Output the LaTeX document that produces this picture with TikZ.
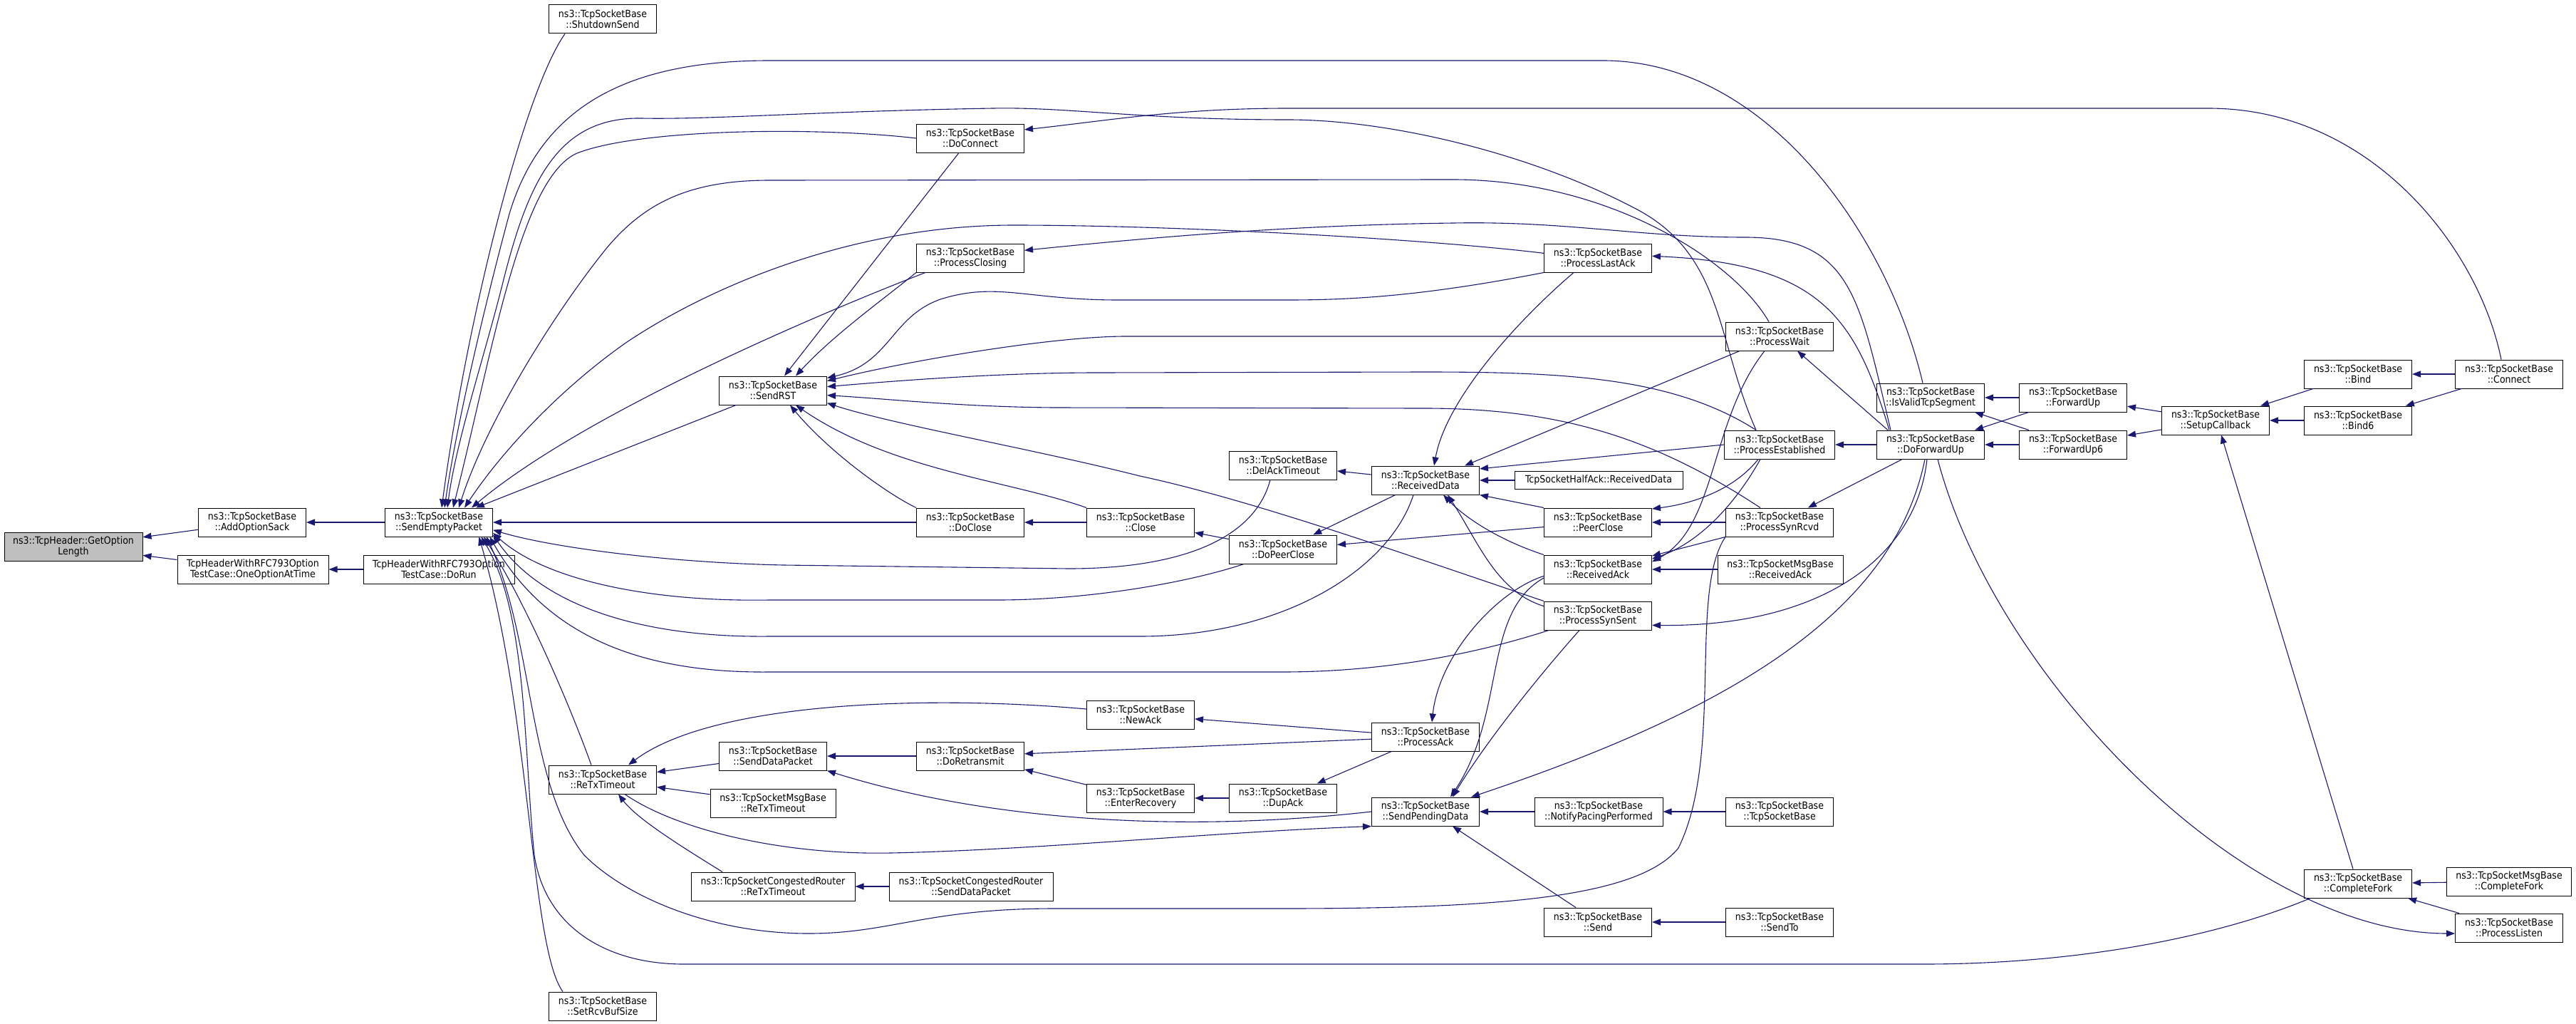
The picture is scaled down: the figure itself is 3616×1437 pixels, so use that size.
\documentclass[tikz,border=0pt]{standalone}
\usepackage{fontspec}
\setmainfont{DejaVu Sans Condensed}
\usetikzlibrary{arrows.meta}
\definecolor{edgeblue}{HTML}{191970}
\definecolor{rootgray}{HTML}{BFBFBF}
\newcommand{\tsb}{ns3::TcpSocketBase\\}
\tikzset{
	fn/.style={draw=black, line width=1pt, fill=white, minimum width=151pt, minimum height=40pt, inner sep=0pt, align=center, font=\fontsize{14}{14.5}\selectfont},
	call/.style={draw=edgeblue, line width=1.1pt, -{Triangle[length=12pt,width=9pt]}}
}
\begin{document}
\begin{tikzpicture}[x=1pt, y=-1pt]
	   \useasboundingbox (0,0) rectangle (3616,1437);
	   % draw root and first callers
	   \node[fn, fill=rootgray, minimum width=194pt] (getopt) at (103,767) {ns3::TcpHeader::GetOption\\Length};
	   \node[fn] (addsack) at (354,733) {\tsb::AddOptionSack};
	   \node[fn] (sendempty) at (616,733) {\tsb::SendEmptyPacket};
	   \node[fn, minimum width=212pt] (oneopt) at (355,799) {TcpHeaderWithRFC793Option\\TestCase::OneOptionAtTime};
	   \node[fn, minimum width=212pt] (dorun) at (616,799) {TcpHeaderWithRFC793Option\\TestCase::DoRun};
	   % draw middle columns
	   \node[fn] (shutdown) at (846,27) {\tsb::ShutdownSend};
	   \node[fn] (sendrst) at (1085,548) {\tsb::SendRST};
	   \node[fn] (retx) at (846,1094) {\tsb::ReTxTimeout};
	   \node[fn] (setrcvbuf) at (846,1412) {\tsb::SetRcvBufSize};
	   \node[fn] (doconnect) at (1362,194) {\tsb::DoConnect};
	   \node[fn] (procclosing) at (1362,362) {\tsb::ProcessClosing};
	   \node[fn] (doclose) at (1362,733) {\tsb::DoClose};
	   \node[fn] (close) at (1601,733) {\tsb::Close};
	   \node[fn] (delack) at (1801,653) {\tsb::DelAckTimeout};
	   \node[fn] (dopeerclose) at (1801,771) {\tsb::DoPeerClose};
	   \node[fn] (newack) at (1601,1003) {\tsb::NewAck};
	   \node[fn] (senddata) at (1085,1061) {\tsb::SendDataPacket};
	   \node[fn] (doretx) at (1362,1061) {\tsb::DoRetransmit};
	   \node[fn, minimum width=176pt] (msgretx) at (1085,1127) {ns3::TcpSocketMsgBase\\::ReTxTimeout};
	   \node[fn] (enterrec) at (1601,1120) {\tsb::EnterRecovery};
	   \node[fn] (dupack) at (1801,1120) {\tsb::DupAck};
	   \node[fn, minimum width=230pt] (crretx) at (1085,1244) {ns3::TcpSocketCongestedRouter\\::ReTxTimeout};
	   \node[fn, minimum width=230pt] (crsenddata) at (1363,1244) {ns3::TcpSocketCongestedRouter\\::SendDataPacket};
	   % draw receive side
	   \node[fn] (recvdata) at (2001,674) {\tsb::ReceivedData};
	   \node[fn] (procack) at (2001,1034) {\tsb::ProcessAck};
	   \node[fn] (sendpending) at (2001,1139) {\tsb::SendPendingData};
	   \node[fn] (proclastack) at (2243,362) {\tsb::ProcessLastAck};
	   \node[fn, minimum width=236pt, minimum height=25pt] (halfack) at (2244,674) {TcpSocketHalfAck::ReceivedData};
	   \node[fn] (peerclose) at (2243,733) {\tsb::PeerClose};
	   \node[fn] (recvack) at (2243,799) {\tsb::ReceivedAck};
	   \node[fn] (procsynsent) at (2243,864) {\tsb::ProcessSynSent};
	   \node[fn, minimum width=180pt] (notifypacing) at (2244,1139) {\tsb::NotifyPacingPerformed};
	   \node[fn] (send) at (2243,1294) {\tsb::Send};
	   \node[fn] (procwait) at (2498,472) {\tsb::ProcessWait};
	   \node[fn, minimum width=155pt] (procest) at (2498,624) {\tsb::ProcessEstablished};
	   \node[fn] (procsynrcvd) at (2498,733) {\tsb::ProcessSynRcvd};
	   \node[fn, minimum width=176pt] (msgrecvack) at (2499,799) {ns3::TcpSocketMsgBase\\::ReceivedAck};
	   \node[fn] (ctor) at (2498,1139) {\tsb::TcpSocketBase};
	   \node[fn] (sendto) at (2498,1294) {\tsb::SendTo};
	   % draw right columns
	   \node[fn] (isvalid) at (2710,558) {\tsb::IsValidTcpSegment};
	   \node[fn] (doforwardup) at (2710,624) {\tsb::DoForwardUp};
	   \node[fn] (forwardup) at (2910,558) {\tsb::ForwardUp};
	   \node[fn] (forwardup6) at (2910,624) {\tsb::ForwardUp6};
	   \node[fn] (setupcb) at (3110,590) {\tsb::SetupCallback};
	   \node[fn] (bind) at (3310,525) {\tsb::Bind};
	   \node[fn] (bind6) at (3310,590) {\tsb::Bind6};
	   \node[fn] (connect) at (3522,525) {\tsb::Connect};
	   \node[fn] (completefork) at (3310,1240) {\tsb::CompleteFork};
	   \node[fn, minimum width=175pt] (msgcompletefork) at (3522,1237) {ns3::TcpSocketMsgBase\\::CompleteFork};
	   \node[fn] (proclisten) at (3522,1302) {\tsb::ProcessListen};
	   % calls into GetOptionLength
	   \draw[call] (addsack) -- (getopt);
	   \draw[call] (oneopt) -- (getopt);
	   \draw[call] (sendempty) -- (addsack);
	   \draw[call] (dorun) -- (oneopt);
	   % callers of SendEmptyPacket, top side
	   \draw[call] ([xshift=-53pt]shutdown.south) .. controls (735,130) and (655,450) .. ([xshift=4pt]sendempty.north);
	   \draw[call] ([xshift=-11pt]isvalid.north) .. controls (2650,330) and (2480,85) .. (2250,85) -- (1080,85) .. controls (880,85) and (760,150) .. (715,300) .. controls (680,430) and (640,600) .. ([xshift=8pt]sendempty.north);
	   \draw[call] ([xshift=-33pt]procest.north) .. controls (2410,480) and (2420,360) .. (2300,295) .. controls (2150,215) and (1950,168) .. (1808,168) .. controls (1600,168) and (1500,150) .. (1394,152) .. controls (1150,156) and (1000,168) .. (900,166) .. controls (780,164) and (740,260) .. (705,400) .. controls (680,500) and (640,620) .. ([xshift=12pt]sendempty.north);
	   \draw[call] (doconnect.west) .. controls (1150,178) and (900,180) .. (810,215) .. controls (730,250) and (690,500) .. ([xshift=20pt]sendempty.north);
	   \draw[call] ([xshift=-15pt]procwait.north) .. controls (2430,360) and (2250,252) .. (2040,252) -- (1080,253) .. controls (960,253) and (900,290) .. (850,350) .. controls (770,450) and (680,600) .. ([xshift=28pt]sendempty.north);
	   \draw[call] (proclastack.175) .. controls (2000,335) and (1650,316) .. (1423,316) .. controls (1200,316) and (1000,400) .. (880,480) .. controls (780,550) and (700,640) .. ([xshift=36pt]sendempty.north);
	   \draw[call] ([xshift=-63pt]procclosing.south) .. controls (1150,440) and (820,580) .. ([xshift=46pt]sendempty.north);
	   \draw[call] (sendrst) -- (sendempty);
	   \draw[call] (doclose) -- (sendempty);
	   % callers of SendEmptyPacket, bottom side
	   \draw[call] ([xshift=-18pt]delack.south) .. controls (1760,760) and (1650,798) .. (1500,798) -- (1100,793) .. controls (950,790) and (780,770) .. (sendempty.-8);
	   \draw[call] ([xshift=-55pt]dopeerclose.south) .. controls (1660,820) and (1520,842) .. (1400,842) -- (1080,842) .. controls (900,845) and (760,810) .. (sendempty.-11);
	   \draw[call] ([xshift=-17pt]recvdata.south) .. controls (1950,800) and (1800,893) .. (1600,893) -- (1080,893) .. controls (900,895) and (760,850) .. (sendempty.-13);
	   \draw[call] ([xshift=-69pt]procsynsent.south) .. controls (2080,915) and (1950,943) .. (1800,943) -- (1080,943) .. controls (880,945) and (760,880) .. (sendempty.-16);
	   \draw[call] ([xshift=-16pt]retx.north) .. controls (800,990) and (740,850) .. (sendempty.-18);
	   \draw[call] (procsynrcvd.south west) .. controls (2370,830) and (2420,1060) .. (2356,1190) .. controls (2300,1260) and (2100,1275) .. (1800,1275) -- (1480,1275) .. controls (1300,1275) and (1250,1310) .. (1135,1310) .. controls (1000,1310) and (880,1260) .. (820,1200) .. controls (740,1100) and (750,900) .. (sendempty.-17);
	   \draw[call] ([xshift=-67pt]completefork.south) .. controls (3100,1320) and (2900,1353) .. (2700,1353) -- (960,1353) .. controls (850,1353) and (765,1300) .. (750,1200) .. controls (735,1050) and (740,860) .. (sendempty.-19);
	   \draw[call] ([xshift=-56pt]setrcvbuf.north) .. controls (745,1330) and (745,1000) .. (sendempty.-20);
	   % callers of SendRST
	   \draw[call] (doconnect) -- (sendrst);
	   \draw[call] (procclosing.south west) .. controls (1240,420) and (1170,470) .. ([xshift=32pt]sendrst.north);
	   \draw[call] (proclastack.south west) .. controls (2000,415) and (1900,421) .. (1808,421) -- (1570,421) .. controls (1440,421) and (1400,395) .. (1320,420) .. controls (1250,445) and (1250,510) .. (sendrst.13);
	   \draw[call] (procwait.west) -- (1580,472) .. controls (1480,472) and (1280,505) .. (sendrst.10);
	   \draw[call] ([xshift=-33pt]procest.north) .. controls (2350,530) and (2200,522) .. (2000,522) -- (1540,523) .. controls (1400,523) and (1250,535) .. (sendrst.4);
	   \draw[call] ([xshift=-27pt]procsynrcvd.north) .. controls (2330,620) and (2200,573) .. (2000,573) -- (1480,572) .. controls (1350,571) and (1250,560) .. (sendrst.-5);
	   \draw[call] (procsynsent.north west) .. controls (1950,770) and (1750,700) .. (1600,668) .. controls (1450,630) and (1250,595) .. (sendrst.-13);
	   \draw[call] (doclose.north west) .. controls (1240,690) and (1160,630) .. ([xshift=24pt]sendrst.south);
	   \draw[call] (close.north west) .. controls (1420,675) and (1250,660) .. ([xshift=32pt]sendrst.south);
	   % close and data path
	   \draw[call] (recvdata) -- (delack);
	   \draw[call] (recvdata) -- (dopeerclose);
	   \draw[call] (peerclose) -- (dopeerclose);
	   \draw[call] (dopeerclose) -- (close);
	   \draw[call] (close) -- (doclose);
	   \draw[call] (procest.west) -- (recvdata.12);
	   \draw[call] (halfack) -- (recvdata);
	   \draw[call] (peerclose.north west) -- (recvdata.south east);
	   \draw[call] ([xshift=-34pt]proclastack.south) .. controls (2130,450) and (2030,560) .. ([xshift=12pt]recvdata.north);
	   \draw[call] ([xshift=-56pt]procwait.south) -- ([xshift=55pt]recvdata.north);
	   \draw[call] (recvack.north west) .. controls (2110,760) and (2060,730) .. ([xshift=25pt]recvdata.south);
	   \draw[call] (procsynsent.170) .. controls (2100,830) and (2075,760) .. ([xshift=31pt]recvdata.south);
	   % DoForwardUp dispatch
	   \draw[call] ([xshift=-60pt]doforwardup.north) -- ([xshift=25pt]procwait.south);
	   \draw[call] (doforwardup) -- (procest);
	   \draw[call] (doforwardup) -- (procsynrcvd);
	   \draw[call] ([xshift=-5pt]doforwardup.south) .. controls (2690,780) and (2560,880) .. (procsynsent.-10);
	   \draw[call] ([xshift=-8pt]doforwardup.south) .. controls (2660,850) and (2450,990) .. ([xshift=64pt]sendpending.north);
	   \draw[call] ([xshift=10pt]doforwardup.south) .. controls (2800,950) and (3150,1310) .. (proclisten.186);
	   \draw[call] ([xshift=-58pt]doforwardup.north) .. controls (2605,450) and (2560,370) .. (proclastack.2);
	   \draw[call] ([xshift=-56pt]doforwardup.north) .. controls (2610,420) and (2600,333) .. (2450,333) .. controls (2300,333) and (2200,310) .. (2040,313) .. controls (1800,316) and (1600,335) .. (procclosing.8);
	   % upper right chain
	   \draw[call] (forwardup) -- (isvalid);
	   \draw[call] (forwardup6) -- (isvalid);
	   \draw[call] (forwardup) -- (doforwardup);
	   \draw[call] (forwardup6) -- (doforwardup);
	   \draw[call] (setupcb) -- (forwardup);
	   \draw[call] (setupcb) -- (forwardup6);
	   \draw[call] (bind) -- (setupcb);
	   \draw[call] (bind6) -- (setupcb);
	   \draw[call] (connect) -- (bind);
	   \draw[call] (connect) -- (bind6);
	   \draw[call] ([xshift=-7pt]completefork.north) -- ([xshift=8pt]setupcb.south);
	   \draw[call] (msgcompletefork) -- (completefork);
	   \draw[call] (proclisten) -- (completefork);
	   \draw[call] ([xshift=-11pt]connect.north) .. controls (3480,350) and (3330,152) .. (3100,152) -- (1808,152) .. controls (1650,152) and (1550,170) .. (doconnect.9);
	   % PeerClose and ReceivedAck
	   \draw[call] (procsynrcvd) -- (peerclose);
	   \draw[call] ([xshift=-30pt]procest.south) .. controls (2440,680) and (2390,705) .. (peerclose.14);
	   \draw[call] (procsynrcvd.south west) -- (recvack.14);
	   \draw[call] ([xshift=-27pt]procest.south) .. controls (2440,700) and (2390,760) .. (recvack.11);
	   \draw[call] ([xshift=-21pt]procwait.south) .. controls (2400,590) and (2410,740) .. (recvack.8);
	   \draw[call] (msgrecvack) -- (recvack);
	   % ack processing and sending
	   \draw[call] (recvack.187) .. controls (2100,830) and (2020,920) .. ([xshift=9pt]procack.north);
	   \draw[call] (recvack.189) .. controls (2080,860) and (2115,1000) .. ([xshift=35pt]sendpending.north);
	   \draw[call] ([xshift=-26pt]procsynsent.south) .. controls (2150,960) and (2080,1050) .. ([xshift=38pt]sendpending.north);
	   \draw[call] (procack) -- (dupack);
	   \draw[call] (procack) -- (newack);
	   \draw[call] (procack) -- (doretx);
	   \draw[call] (enterrec) -- (doretx);
	   \draw[call] (dupack) -- (enterrec);
	   \draw[call] (doretx) -- (senddata);
	   \draw[call] (sendpending.west) .. controls (1650,1170) and (1380,1150) .. (senddata.south east);
	   \draw[call] (senddata) -- (retx);
	   \draw[call] (msgretx) -- (retx);
	   \draw[call] ([xshift=-71pt]crretx.north) .. controls (960,1190) and (895,1150) .. ([xshift=22pt]retx.south);
	   \draw[call] (crsenddata) -- (crretx);
	   \draw[call] (newack.174) .. controls (1300,975) and (1000,985) .. ([xshift=36pt]retx.north);
	   \draw[call] ([xshift=31pt]retx.south) .. controls (950,1165) and (1100,1200) .. (1250,1197) .. controls (1450,1193) and (1700,1168) .. (sendpending.south west);
	   \draw[call] (notifypacing) -- (sendpending);
	   \draw[call] (ctor) -- (notifypacing);
	   \draw[call] ([xshift=-31pt]send.north) -- ([xshift=38pt]sendpending.south);
	   \draw[call] (sendto) -- (send);
\end{tikzpicture}
\end{document}
